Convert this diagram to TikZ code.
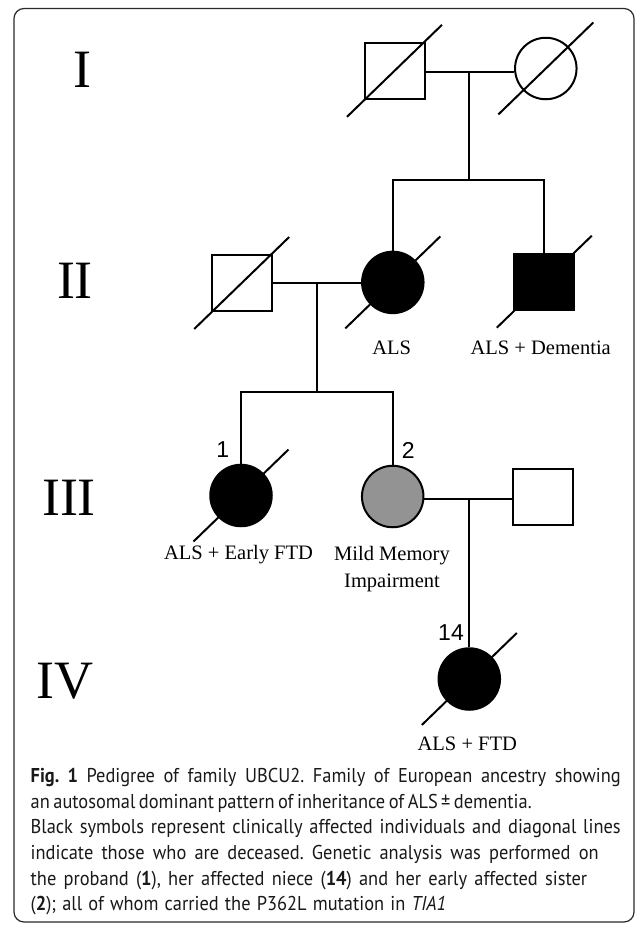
\documentclass[tikz,border=0pt]{standalone}
\usepackage{fontspec}
\setmainfont{Liberation Serif}
\newfontfamily\numfont{Liberation Sans}
\newfontfamily\capfont[FakeStretch=0.92]{PT Sans}
\definecolor{midgray}{HTML}{939393}
\definecolor{framecol}{HTML}{2A2A2A}
\frenchspacing
\tikzset{
  ped/.style={line width=2pt, draw=black},
  sq/.style={rectangle, draw=black, line width=2pt, minimum width=60pt, minimum height=56pt, inner sep=0pt},
  ci/.style={circle, draw=black, line width=2pt, minimum size=61.5pt, inner sep=0pt},
  aff/.style={fill=black},
  unaff/.style={fill=white},
  partaff/.style={fill=midgray},
  gen/.style={font=\fontsize{54}{54}\selectfont, inner sep=0pt},
  lbl/.style={font=\fontsize{20.5}{27.7}\selectfont, inner sep=0pt, align=center},
  idn/.style={font=\numfont\fontsize{23}{23}\selectfont, inner sep=0pt},
  capline/.style={font=\capfont\fontsize{20}{24}\selectfont, inner sep=0pt, anchor=base west, text=black!90},
}
\newcommand{\deceased}[1]{\draw[ped] ([shift={(-47.5,46)}]#1.center) -- ([shift={(47.5,-46)}]#1.center);}
\newcommand{\capfit}[2]{\makebox[#1pt][s]{#2}}
\begin{document}
\begin{tikzpicture}[x=1pt, y=-1pt]
  \fill[white] (0,0) rectangle (636,927);
  \useasboundingbox (0,0) rectangle (636,927);
  \draw[framecol, line width=1.2pt, rounded corners=10pt] (14,8.5) rectangle (634,922);

  % generation numerals
  \node[gen] (gI) at (82.3,70) {I};
  \node[gen] (gII) at (75,281) {II};
  \node[gen] (gIII) at (69,498.3) {III};
  \node[gen] (gIV) at (65,681.7) {IV};

  % Generation I
  \node[sq, unaff] (I1) at (394.5,70.8) {};
  \node[ci, unaff] (I2) at (545.8,68.5) {};
  \deceased{I1}
  \deceased{I2}

  % Generation II
  \node[sq, unaff] (II1) at (241.7,283) {};
  \node[ci, aff] (II2) at (392.8,282.4) {};
  \node[sq, aff] (II3) at (544.3,281.7) {};
  \deceased{II1}
  \deceased{II2}
  \deceased{II3}

  % Generation III
  \node[ci, aff] (III1) at (241,495.5) {};
  \node[ci, partaff] (III2) at (392.7,496.5) {};
  \node[sq, unaff] (III3) at (543.2,497) {};
  \deceased{III1}

  % Generation IV
  \node[ci, aff] (IV1) at (469.3,679) {};
  \deceased{IV1}

  % connectors
  \coordinate (m1) at (469,71.5);
  \coordinate (s1) at (469,180);
  \draw[ped] (I1.east |- m1) -- (I2.west |- m1);
  \draw[ped] (m1) -- (s1);
  \draw[ped] (II2.north) -- (II2.north |- s1) -- (II3.north |- s1) -- (II3.north);

  \coordinate (m2) at (316.7,283.3);
  \coordinate (s2) at (316.7,392.3);
  \draw[ped] (II1.east |- m2) -- (II2.west |- m2);
  \draw[ped] (m2) -- (s2);
  \draw[ped] (III1.north) -- (III1.north |- s2) -- (III2.north |- s2) -- (III2.north);

  \coordinate (m3) at (469.3,498.5);
  \draw[ped] (III2.east |- m3) -- (III3.west |- m3);
  \draw[ped] (m3) -- (IV1.north);

  % labels
  \node[lbl] (lII2) at (391.7,348.3) {ALS};
  \node[lbl] (lII3) at (540.7,348.3) {ALS + Dementia};
  \node[lbl] (lIII1) at (238.5,555) {ALS + Early FTD};
  \node[lbl] (lIII2) at (392,569) {Mild Memory\\Impairment};
  \node[lbl] (lIV1) at (467.3,744.3) {ALS + FTD};

  \node[idn] (n1) at (222.7,449.3) {1};
  \node[idn] (n2) at (408.3,450.7) {2};
  \node[idn] (n14) at (451,632.7) {14};

  % caption
  \node[capline] (c1) at (30.5,782.7) {\capfit{590}{\textbf{Fig. 1} Pedigree of family UBCU2. Family of European ancestry showing}};
  \node[capline] (c2) at (30.5,808.3) {\capfit{501}{an autosomal dominant pattern of inheritance of ALS\,±\,dementia.}};
  \node[capline] (c3) at (30.5,833.9) {\capfit{590}{Black symbols represent clinically affected individuals and diagonal lines}};
  \node[capline] (c4) at (30.5,859.5) {\capfit{568}{indicate those who are deceased. Genetic analysis was performed on}};
  \node[capline] (c5) at (30.5,885.1) {\capfit{556.5}{the proband (\textbf{1}), her affected niece (\textbf{14}) and her early affected sister}};
  \node[capline] (c6) at (30.5,910.7) {\capfit{415.5}{(\textbf{2}); all of whom carried the P362L mutation in \textit{TIA1}}};
\end{tikzpicture}
\end{document}
